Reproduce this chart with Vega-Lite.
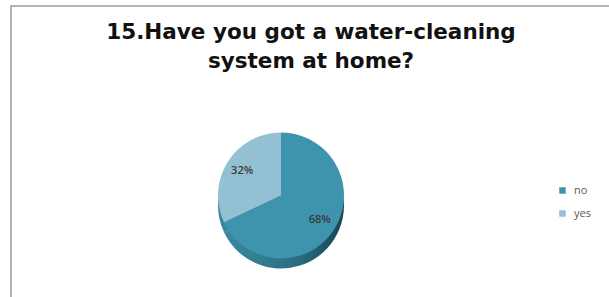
{
  "$schema": "https://vega.github.io/schema/vega-lite/v6.json",
  "width": 609,
  "height": 297,
  "autosize": {"type": "fit", "contains": "padding"},
  "padding": {"left": 11, "top": 6, "right": -2, "bottom": -6},
  "background": "white",
  "view": {"stroke": "#9a9a9a", "strokeWidth": 1.5, "fill": "white"},
  "config": {"font": "Open Sans"},
  "title": {
    "text": ["15.Have you got a water-cleaning", "system at home?"],
    "font": "DejaVu Sans",
    "fontSize": 21.5,
    "fontWeight": "bold",
    "color": "#111111",
    "anchor": "middle",
    "frame": "group",
    "lineHeight": 29,
    "offset": -66
  },
  "data": {
    "values": [
      {"answer": "no", "share": 68, "label": "68%"},
      {"answer": "yes", "share": 32, "label": "32%"}
    ]
  },
  "encoding": {
    "theta": {"field": "share", "type": "quantitative", "stack": true},
    "order": {"field": "answer", "type": "nominal", "sort": "ascending"}
  },
  "layer": [
    {
      "mark": {
        "type": "arc",
        "outerRadius": 63,
        "xOffset": -30,
        "yOffset": 51,
        "fill": {
          "x1": 0, "y1": 0, "x2": 1, "y2": 0,
          "gradient": "linear",
          "stops": [
            {"offset": 0, "color": "#3a8aa1"},
            {"offset": 0.6, "color": "#2b6d82"},
            {"offset": 1, "color": "#1b4452"}
          ]
        }
      },
      "encoding": {}
    },
    {
      "mark": {"type": "arc", "outerRadius": 63, "xOffset": -30, "yOffset": 41},
      "encoding": {
        "color": {
          "field": "answer",
          "type": "nominal",
          "scale": {"domain": ["no", "yes"], "range": ["#3f94ad", "#93c0d3"]},
          "legend": {
            "title": null,
            "orient": "none",
            "legendX": 546,
            "legendY": 179,
            "symbolType": "square",
            "symbolSize": 42,
            "symbolStrokeWidth": 0,
            "labelFont": "Open Sans",
            "labelFontSize": 11,
            "labelColor": "#595959",
            "labelOffset": 6,
            "rowPadding": 11
          }
        }
      }
    },
    {
      "mark": {
        "type": "text",
        "radius": 46,
        "xOffset": -30,
        "yOffset": 41,
        "font": "Open Sans",
        "fontSize": 11,
        "fontWeight": 600,
        "color": "#3b3b3b"
      },
      "encoding": {
        "text": {"field": "label", "type": "nominal"}
      }
    }
  ]
}
